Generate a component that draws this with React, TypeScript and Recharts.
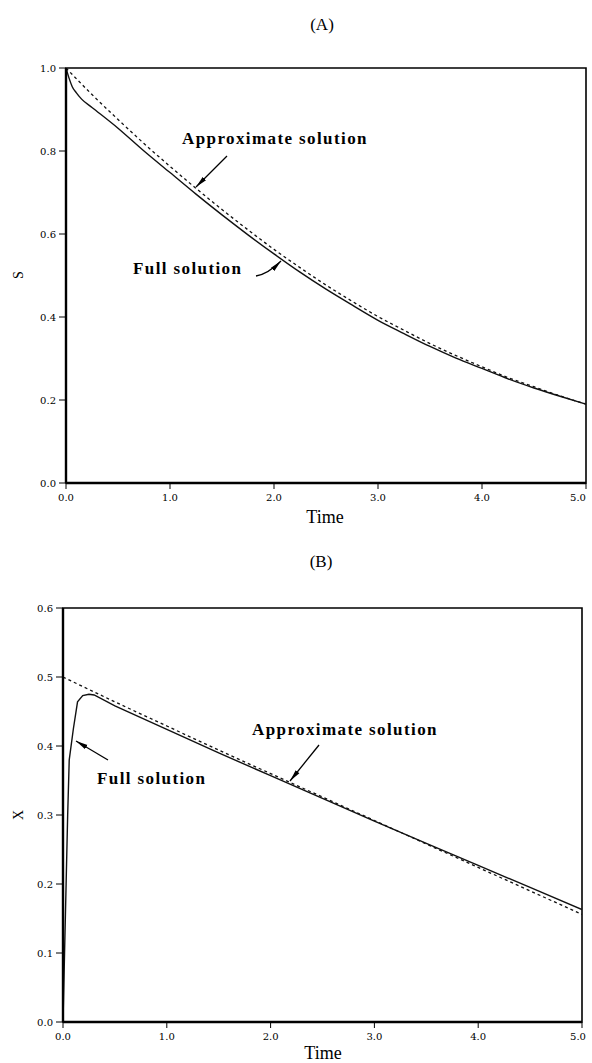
import React from 'react';
import { LineChart, Line, XAxis, YAxis, ReferenceArea } from 'recharts';

// ---- Panel A: S vs Time ----
const sApproxTime = [0, 0.25, 0.5, 0.75, 1, 1.25, 1.5, 1.75, 2, 2.25, 2.5, 2.75, 3, 3.25, 3.5, 3.75, 4, 4.25, 4.5, 4.75, 5];
const sApproxVals = [1.0, 0.936, 0.876, 0.818, 0.763, 0.71, 0.659, 0.61, 0.563, 0.519, 0.477, 0.438, 0.401, 0.368, 0.336, 0.307, 0.28, 0.254, 0.232, 0.21, 0.19];
const sFullTime = [0, 0.03, 0.06, 0.1, 0.15, 0.25, 0.5, 0.75, 1, 1.25, 1.5, 1.75, 2, 2.25, 2.5, 2.75, 3, 3.25, 3.5, 3.75, 4, 4.25, 4.5, 4.75, 5];
const sFullVals = [1.0, 0.975, 0.955, 0.94, 0.925, 0.905, 0.855, 0.8, 0.748, 0.696, 0.646, 0.598, 0.552, 0.508, 0.467, 0.429, 0.392, 0.36, 0.329, 0.301, 0.276, 0.251, 0.229, 0.209, 0.19];

// ---- Panel B: X vs Time ----
const xApproxTime = [0, 0.5, 1, 1.5, 2, 2.5, 3, 3.5, 4, 4.5, 5];
const xApproxVals = [0.5, 0.464, 0.429, 0.394, 0.36, 0.326, 0.292, 0.258, 0.224, 0.19, 0.156];
const xFullTime = [0, 0.015, 0.03, 0.045, 0.06, 0.1, 0.14, 0.19, 0.25, 0.3, 0.5, 1, 1.5, 2, 2.5, 3, 3.5, 4, 4.5, 5];
const xFullVals = [0, 0.1, 0.2, 0.3, 0.38, 0.425, 0.464, 0.473, 0.475, 0.474, 0.458, 0.424, 0.39, 0.357, 0.324, 0.291, 0.259, 0.227, 0.195, 0.163];

// ticks
const timeTicks = [0, 1, 2, 3, 4, 5];
const sTicks = [0, 0.2, 0.4, 0.6, 0.8, 1.0];
const xTicks = [0, 0.1, 0.2, 0.3, 0.4, 0.5, 0.6];

const toRows = (t: number[], v: number[]) => t.map((tt, i) => ({ t: tt, v: v[i] }));

const tickFont = { fontFamily: 'DejaVu Serif', fontSize: 10, fill: '#000' };
const fmt = (n: number) => n.toFixed(1);

// keeps the last time label inside the page
function TimeTick(props: any) {
  const { x, y, payload } = props;
  const cx = Math.min(x, 578);
  return (
    <text x={cx} y={y} dy="0.71em" textAnchor="middle" fontFamily="DejaVu Serif" fontSize={10} fill="#000">
      {fmt(payload.value)}
    </text>
  );
}

function Panel(props: {
  width: number; height: number; margin: any; yAxisWidth: number;
  yDomain: [number, number]; yTicks: number[];
  approx: { t: number; v: number }[]; full: { t: number; v: number }[];
  fullType: 'linear' | 'monotone';
}) {
  const { width, height, margin, yAxisWidth, yDomain, yTicks, approx, full, fullType } = props;
  return (
    <LineChart width={width} height={height} margin={margin}>
      <XAxis
        dataKey="t"
        type="number"
        domain={[0, 5]}
        ticks={timeTicks}
        allowDataOverflow
        height={30}
        tick={<TimeTick />}
        tickSize={6}
        tickMargin={5}
        axisLine={{ stroke: '#000', strokeWidth: 2.4 }}
        tickLine={{ stroke: '#000', strokeWidth: 1 }}
      />
      <YAxis
        type="number"
        domain={yDomain}
        ticks={yTicks}
        tickFormatter={fmt}
        allowDataOverflow
        width={yAxisWidth}
        tick={tickFont}
        tickSize={7}
        tickMargin={3}
        axisLine={{ stroke: '#000', strokeWidth: 2.4 }}
        tickLine={{ stroke: '#000', strokeWidth: 1 }}
      />
      <ReferenceArea
        x1={0}
        x2={5}
        y1={yDomain[0]}
        y2={yDomain[1]}
        fill="none"
        fillOpacity={0}
        stroke="#000"
        strokeWidth={1.6}
        ifOverflow="visible"
      />
      <Line
        data={approx}
        dataKey="v"
        type="monotone"
        stroke="#111"
        strokeWidth={1.3}
        strokeDasharray="3 3"
        dot={false}
        isAnimationActive={false}
      />
      <Line
        data={full}
        dataKey="v"
        type={fullType}
        stroke="#111"
        strokeWidth={1.4}
        dot={false}
        isAnimationActive={false}
      />
    </LineChart>
  );
}

const serif = 'Liberation Serif';

export default function App() {
  return (
    <div style={{ position: 'absolute', left: 0, top: 0, width: 592, height: 1063, background: '#fff', overflow: 'hidden' }}>
      <div style={{ position: 'absolute', left: 0, top: 0 }}>
        <Panel
          width={592}
          height={540}
          margin={{ top: 68, right: 6, bottom: 27, left: 0 }}
          yAxisWidth={66}
          yDomain={[0, 1]}
          yTicks={sTicks}
          approx={toRows(sApproxTime, sApproxVals)}
          full={toRows(sFullTime, sFullVals)}
          fullType="monotone"
        />
      </div>
      <div style={{ position: 'absolute', left: 0, top: 540 }}>
        <Panel
          width={592}
          height={523}
          margin={{ top: 68, right: 10, bottom: 11, left: 0 }}
          yAxisWidth={63}
          yDomain={[0, 0.6]}
          yTicks={xTicks}
          approx={toRows(xApproxTime, xApproxVals)}
          full={toRows(xFullTime, xFullVals)}
          fullType="linear"
        />
      </div>
      <svg width={592} height={1063} style={{ position: 'absolute', left: 0, top: 0, pointerEvents: 'none' }}>
        <defs>
          <marker id="ah" viewBox="0 0 12 6" refX="12" refY="3" markerWidth="12" markerHeight="6" markerUnits="userSpaceOnUse" orient="auto">
            <path d="M0,0.6 L12,3 L0,5.4 Z" fill="#000" />
          </marker>
        </defs>
        {/* titles */}
        <text x={322} y={24} textAnchor="middle" dominantBaseline="central" fontFamily={serif} fontSize={17}>(A)</text>
        <text x={321} y={561} textAnchor="middle" dominantBaseline="central" fontFamily={serif} fontSize={17}>(B)</text>
        {/* axis titles */}
        <text x={325} y={517} textAnchor="middle" dominantBaseline="central" fontFamily={serif} fontSize={18}>Time</text>
        <text x={323} y={1053} textAnchor="middle" dominantBaseline="central" fontFamily={serif} fontSize={18}>Time</text>
        <text x={18} y={275} textAnchor="middle" dominantBaseline="central" fontFamily={serif} fontSize={14} transform="rotate(-90 18 275)">S</text>
        <text x={18} y={815} textAnchor="middle" dominantBaseline="central" fontFamily={serif} fontSize={14} transform="rotate(-90 18 815)">X</text>
        {/* panel A annotations */}
        <text x={182} y={138} dominantBaseline="central" fontFamily={serif} fontWeight="bold" fontSize={17} letterSpacing={1.4}>Approximate solution</text>
        <line x1={227} y1={156} x2={196} y2={187} stroke="#000" strokeWidth={1.3} markerEnd="url(#ah)" />
        <text x={133} y={268} dominantBaseline="central" fontFamily={serif} fontWeight="bold" fontSize={17} letterSpacing={1.4}>Full solution</text>
        <path d="M256,276 Q268,274 281,261" fill="none" stroke="#000" strokeWidth={1.3} markerEnd="url(#ah)" />
        {/* panel B annotations */}
        <text x={252} y={729} dominantBaseline="central" fontFamily={serif} fontWeight="bold" fontSize={17} letterSpacing={1.4}>Approximate solution</text>
        <line x1={319} y1={745} x2={290} y2={781} stroke="#000" strokeWidth={1.3} markerEnd="url(#ah)" />
        <text x={97} y={778} dominantBaseline="central" fontFamily={serif} fontWeight="bold" fontSize={17} letterSpacing={1.4}>Full solution</text>
        <line x1={108} y1={760} x2={76} y2={741} stroke="#000" strokeWidth={1.3} markerEnd="url(#ah)" />
      </svg>
    </div>
  );
}
